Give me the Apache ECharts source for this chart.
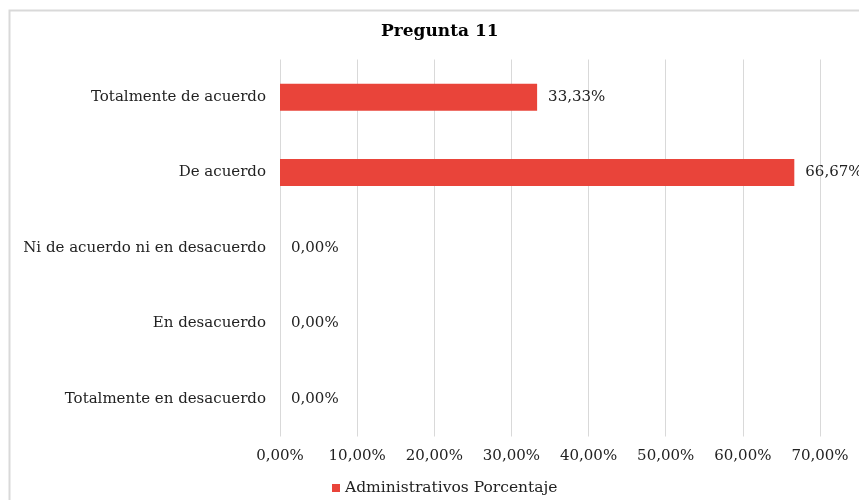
<!DOCTYPE html>
<html>
<head>
<meta charset="utf-8">
<script src="https://cdn.jsdelivr.net/npm/echarts@6/dist/echarts.min.js"></script>
<style>
  html, body { margin: 0; padding: 0; background: #fff; }
  #chart { width: 859px; height: 500px; }
</style>
</head>
<body>
<div id="chart"></div>
<script>
// Response categories, listed bottom-to-top as drawn on the category axis
const categories = [
  'Totalmente en desacuerdo',
  'En desacuerdo',
  'Ni de acuerdo ni en desacuerdo',
  'De acuerdo',
  'Totalmente de acuerdo'
];
// Share of administrative staff per response (percent)
const adminPercent = [0, 0, 0, 66.67, 33.33];
const seriesName = 'Administrativos Porcentaje';
const titleText = 'Pregunta 11';
const axisMax = 70;
const axisStep = 10;

const fmt = v => v.toFixed(2).replace('.', ',') + '%';
const serif = '"DejaVu Serif", "Liberation Serif", serif';

const chart = echarts.init(document.getElementById('chart'), null, { renderer: 'canvas' });
chart.setOption({
  animation: false,
  backgroundColor: '#ffffff',
  graphic: [{
    type: 'rect',
    left: 7, top: 8,
    shape: { width: 900, height: 520 },
    style: { fill: 'none', stroke: '#d9d9d9', lineWidth: 2 },
    silent: true,
    z: -1
  }, {
    type: 'text',
    left: 381, top: 23,
    style: {
      text: titleText,
      fontFamily: serif, fontWeight: 'bold', fontSize: 17, fill: '#000'
    },
    silent: true
  }],
  legend: {
    left: 327, top: 475,
    itemWidth: 8, itemHeight: 8, itemGap: 4,
    icon: 'rect',
    textStyle: { fontFamily: serif, fontSize: 15.5, color: '#222' },
    data: [seriesName]
  },
  grid: { left: 280, right: 39, top: 59.5, bottom: 63.5, containLabel: false },
  xAxis: {
    type: 'value',
    min: 0, max: axisMax, interval: axisStep,
    axisLine: { show: false },
    axisTick: { show: false },
    splitLine: { show: true, lineStyle: { color: '#d9d9d9', width: 1 } },
    axisLabel: {
      formatter: fmt,
      margin: 12,
      fontFamily: serif, fontSize: 15, color: '#222'
    }
  },
  yAxis: {
    type: 'category',
    data: categories,
    axisLine: { show: false },
    axisTick: { show: false },
    axisLabel: { margin: 14, fontFamily: serif, fontSize: 15, color: '#222' }
  },
  series: [{
    name: seriesName,
    type: 'bar',
    data: adminPercent,
    barWidth: 27,
    itemStyle: { color: '#e9443a' },
    label: {
      show: true,
      position: 'right',
      distance: 11,
      formatter: p => fmt(p.value),
      fontFamily: serif, fontSize: 15, color: '#222'
    }
  }]
});
</script>
</body>
</html>
